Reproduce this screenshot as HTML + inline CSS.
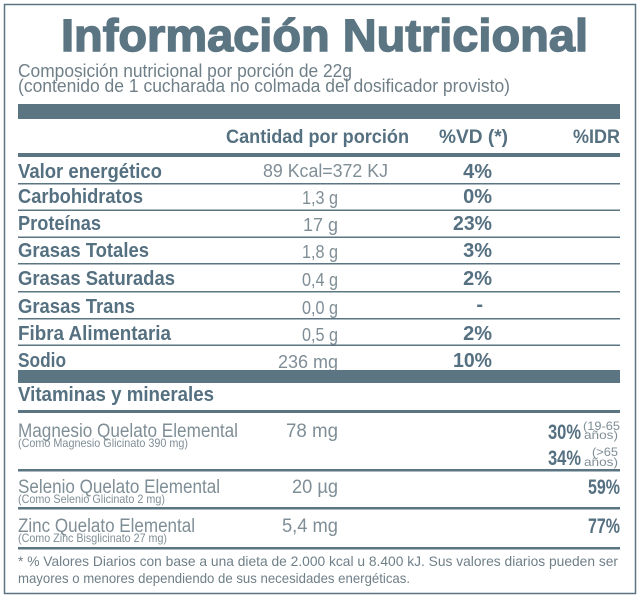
<!DOCTYPE html>
<html>
<head>
<meta charset="utf-8">
<style>
  html,body{margin:0;padding:0;background:#fff;}
  svg{display:block;}
  .b{font-family:"Liberation Sans",Arial,sans-serif;font-weight:bold;fill:#557080;}
  .l{font-family:"Liberation Sans",Arial,sans-serif;font-weight:normal;fill:#7f8e96;}
  .s{font-family:"Liberation Sans",Arial,sans-serif;font-weight:normal;fill:#6f7f88;}
</style>
</head>
<body>
<svg width="638" height="597" viewBox="0 0 638 597" xmlns="http://www.w3.org/2000/svg">
  <rect x="0" y="0" width="638" height="597" fill="#ffffff"/>
  <rect x="4.5" y="4.5" width="631" height="589" fill="none" stroke="#5b7583" stroke-width="1.5"/>

  <!-- Title -->
  <text class="b" x="61" y="51" font-size="45" textLength="527" lengthAdjust="spacingAndGlyphs" style="fill:#5b7583;stroke:#5b7583;stroke-width:1.4px">Información Nutricional</text>

  <!-- Subtitle -->
  <text class="s" x="18" y="77" font-size="18" textLength="334" lengthAdjust="spacingAndGlyphs">Composición nutricional por porción de 22g</text>
  <text class="s" x="18" y="92" font-size="18" textLength="492" lengthAdjust="spacingAndGlyphs">(contenido de 1 cucharada no colmada del dosificador provisto)</text>

  <!-- Top bar -->
  <rect x="18" y="104" width="602" height="15" fill="#5b7583"/>

  <!-- Header -->
  <text class="b" x="226" y="143" font-size="19" textLength="183" lengthAdjust="spacingAndGlyphs">Cantidad por porción</text>
  <text class="b" x="439" y="143" font-size="19" textLength="69" lengthAdjust="spacingAndGlyphs">%VD (*)</text>
  <text class="b" x="573" y="143" font-size="19" textLength="47" lengthAdjust="spacingAndGlyphs">%IDR</text>
  <rect x="18" y="153" width="602" height="4" fill="#5b7583"/>

  <!-- Rows -->
  <text class="b" x="18" y="178" font-size="20" textLength="144" lengthAdjust="spacingAndGlyphs">Valor energético</text>
  <text class="l" x="263" y="177" font-size="18" textLength="125" lengthAdjust="spacingAndGlyphs">89 Kcal=372 KJ</text>
  <text class="b" x="492" y="178" font-size="20" text-anchor="end">4%</text>
  <rect x="18" y="183" width="602" height="1.5" fill="#5b7583"/>

  <text class="b" x="18" y="203" font-size="20" textLength="125" lengthAdjust="spacingAndGlyphs">Carbohidratos</text>
  <text class="l" x="338" y="204" font-size="18" text-anchor="end" textLength="36" lengthAdjust="spacingAndGlyphs">1,3 g</text>
  <text class="b" x="492" y="203" font-size="20" text-anchor="end">0%</text>
  <rect x="18" y="209.5" width="602" height="1.5" fill="#5b7583"/>

  <text class="b" x="18" y="230" font-size="20" textLength="83" lengthAdjust="spacingAndGlyphs">Proteínas</text>
  <text class="l" x="338" y="231" font-size="18" text-anchor="end" textLength="35" lengthAdjust="spacingAndGlyphs">17 g</text>
  <text class="b" x="492" y="230" font-size="20" text-anchor="end" textLength="39" lengthAdjust="spacingAndGlyphs">23%</text>
  <rect x="18" y="236.5" width="602" height="1.5" fill="#5b7583"/>

  <text class="b" x="18" y="257" font-size="20" textLength="131" lengthAdjust="spacingAndGlyphs">Grasas Totales</text>
  <text class="l" x="338" y="258" font-size="18" text-anchor="end" textLength="36" lengthAdjust="spacingAndGlyphs">1,8 g</text>
  <text class="b" x="492" y="257" font-size="20" text-anchor="end">3%</text>
  <rect x="18" y="263" width="602" height="1.5" fill="#5b7583"/>

  <text class="b" x="18" y="285" font-size="20" textLength="157" lengthAdjust="spacingAndGlyphs">Grasas Saturadas</text>
  <text class="l" x="338" y="286" font-size="18" text-anchor="end" textLength="36" lengthAdjust="spacingAndGlyphs">0,4 g</text>
  <text class="b" x="492" y="285" font-size="20" text-anchor="end">2%</text>
  <rect x="18" y="291" width="602" height="1.5" fill="#5b7583"/>

  <text class="b" x="18" y="313" font-size="20" textLength="117" lengthAdjust="spacingAndGlyphs">Grasas Trans</text>
  <text class="l" x="338" y="314" font-size="18" text-anchor="end" textLength="36" lengthAdjust="spacingAndGlyphs">0,0 g</text>
  <text class="b" x="483" y="311" font-size="20" text-anchor="end">-</text>
  <rect x="18" y="318" width="602" height="1.5" fill="#5b7583"/>

  <text class="b" x="18" y="340" font-size="20" textLength="153" lengthAdjust="spacingAndGlyphs">Fibra Alimentaria</text>
  <text class="l" x="338" y="341" font-size="18" text-anchor="end" textLength="36" lengthAdjust="spacingAndGlyphs">0,5 g</text>
  <text class="b" x="492" y="340" font-size="20" text-anchor="end">2%</text>
  <rect x="18" y="344.5" width="602" height="1.5" fill="#5b7583"/>

  <text class="b" x="18" y="367" font-size="20" textLength="48" lengthAdjust="spacingAndGlyphs">Sodio</text>
  <text class="l" x="338" y="368" font-size="18" text-anchor="end" textLength="60" lengthAdjust="spacingAndGlyphs">236 mg</text>
  <text class="b" x="492" y="367" font-size="20" text-anchor="end" textLength="39" lengthAdjust="spacingAndGlyphs">10%</text>

  <rect x="18" y="370" width="602" height="13" fill="#5b7583"/>

  <!-- Vitamins -->
  <text class="b" x="18" y="401" font-size="20" textLength="196" lengthAdjust="spacingAndGlyphs">Vitaminas y minerales</text>
  <rect x="18" y="410" width="602" height="3" fill="#5b7583"/>

  <text class="l" x="18" y="437" font-size="19" textLength="220" lengthAdjust="spacingAndGlyphs">Magnesio Quelato Elemental</text>
  <text class="l" x="18" y="447" font-size="12" textLength="170" lengthAdjust="spacingAndGlyphs">(Como Magnesio Glicinato 390 mg)</text>
  <text class="l" x="338" y="437" font-size="19" text-anchor="end" textLength="52" lengthAdjust="spacingAndGlyphs">78 mg</text>
  <text class="b" x="548" y="439" font-size="21" textLength="33" lengthAdjust="spacingAndGlyphs">30%</text>
  <text class="l" x="583" y="430" font-size="12" textLength="37" lengthAdjust="spacingAndGlyphs">(19-65</text>
  <text class="l" x="584" y="439" font-size="12" textLength="34" lengthAdjust="spacingAndGlyphs">años)</text>
  <text class="b" x="548" y="465" font-size="21" textLength="33" lengthAdjust="spacingAndGlyphs">34%</text>
  <text class="l" x="592" y="456" font-size="12" textLength="26" lengthAdjust="spacingAndGlyphs">(&gt;65</text>
  <text class="l" x="584" y="466" font-size="12" textLength="34" lengthAdjust="spacingAndGlyphs">años)</text>
  <rect x="18" y="469" width="602" height="2.5" fill="#5b7583"/>

  <text class="l" x="18" y="493" font-size="19" textLength="202" lengthAdjust="spacingAndGlyphs">Selenio Quelato Elemental</text>
  <text class="l" x="18" y="503" font-size="12" textLength="147" lengthAdjust="spacingAndGlyphs">(Como Selenio Glicinato 2 mg)</text>
  <text class="l" x="338" y="493" font-size="19" text-anchor="end" textLength="46" lengthAdjust="spacingAndGlyphs">20 µg</text>
  <text class="b" x="620" y="494" font-size="21" text-anchor="end" textLength="32" lengthAdjust="spacingAndGlyphs">59%</text>
  <rect x="18" y="507" width="602" height="2.5" fill="#5b7583"/>

  <text class="l" x="18" y="532" font-size="19" textLength="177" lengthAdjust="spacingAndGlyphs">Zinc Quelato Elemental</text>
  <text class="l" x="18" y="542" font-size="12" textLength="149" lengthAdjust="spacingAndGlyphs">(Como Zinc Bisglicinato 27 mg)</text>
  <text class="l" x="338" y="532" font-size="19" text-anchor="end" textLength="56" lengthAdjust="spacingAndGlyphs">5,4 mg</text>
  <text class="b" x="620" y="533" font-size="21" text-anchor="end" textLength="32" lengthAdjust="spacingAndGlyphs">77%</text>
  <rect x="18" y="547" width="602" height="2.5" fill="#5b7583"/>

  <!-- Footnote -->
  <text class="s" x="18" y="566" font-size="14" textLength="600" lengthAdjust="spacingAndGlyphs">* % Valores Diarios con base a una dieta de 2.000 kcal u 8.400 kJ. Sus valores diarios pueden ser</text>
  <text class="s" x="18" y="583" font-size="14" textLength="392" lengthAdjust="spacingAndGlyphs">mayores o menores dependiendo de sus necesidades energéticas.</text>
</svg>
</body>
</html>
